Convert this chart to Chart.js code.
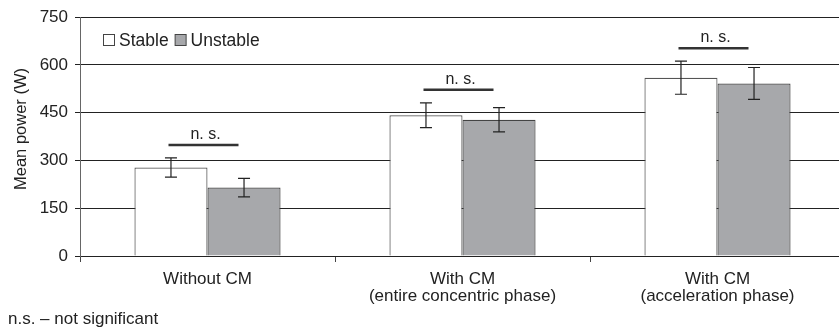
<!DOCTYPE html>
<html>
<head>
<meta charset="utf-8">
<script src="https://cdn.jsdelivr.net/npm/chart.js@4.4.1/dist/chart.umd.min.js"></script>
<style>
  html, body { margin: 0; padding: 0; background: #fff; overflow: hidden; }
  #wrap { width: 845px; height: 329px; position: relative; }
</style>
</head>
<body>
<div id="wrap"><canvas id="c"></canvas></div>
<script>
// values
const categories = [
  'Without CM',
  ['With CM', '(entire concentric phase)'],
  ['With CM', '(acceleration phase)']
]
const stable = [278, 442, 560]
const stableSD = [30, 39, 52]
const unstable = [215, 428, 542]
const unstableSD = [29, 38, 50]
const yTicks = [0, 150, 300, 450, 600, 750]
const nsLabel = 'n. s.'
const footnote = 'n.s. – not significant'
const yTitle = 'Mean power (W)'

const FONT = '"Liberation Sans", Arial, sans-serif'
const sds = [stableSD, unstableSD]

// error bars drawn on top of each bar
const errorBars = {
  id: 'errorBars',
  afterDatasetsDraw(chart) {
    const ctx = chart.ctx, y = chart.scales.y
    ctx.save()
    ctx.strokeStyle = '#222'
    ctx.lineWidth = 1.2
    chart.data.datasets.forEach((ds, di) => {
      chart.getDatasetMeta(di).data.forEach((bar, i) => {
        const v = ds.data[i], sd = sds[di][i]
        const top = y.getPixelForValue(v + sd), bot = y.getPixelForValue(v - sd)
        ctx.beginPath()
        ctx.moveTo(bar.x, top); ctx.lineTo(bar.x, bot)
        ctx.moveTo(bar.x - 6, top); ctx.lineTo(bar.x + 6, top)
        ctx.moveTo(bar.x - 6, bot); ctx.lineTo(bar.x + 6, bot)
        ctx.stroke()
      })
    })
    ctx.restore()
  }
}

// "n. s." brackets, legend in the plot, axis title, footnote
const extras = {
  id: 'extras',
  afterDraw(chart) {
    const ctx = chart.ctx, x = chart.scales.x, y = chart.scales.y
    ctx.save()
    ctx.font = '16px ' + FONT
    ctx.fillStyle = '#222'
    categories.forEach((c, i) => {
      const top = Math.min(
        y.getPixelForValue(stable[i] + stableSD[i]),
        y.getPixelForValue(unstable[i] + unstableSD[i]))
      const ly = top - 13
      const cx = x.getPixelForValue(i) - 4
      ctx.strokeStyle = '#333'
      ctx.lineWidth = 2.5
      ctx.beginPath()
      ctx.moveTo(cx - 35, ly); ctx.lineTo(cx + 35, ly)
      ctx.stroke()
      ctx.textAlign = 'center'
      ctx.textBaseline = 'alphabetic'
      ctx.fillText(nsLabel, cx + 2, ly - 6)
    })

    // legend
    let lx = 103
    const ly = 46
    ctx.font = '17.5px ' + FONT
    ctx.textAlign = 'left'
    chart.data.datasets.forEach(ds => {
      ctx.fillStyle = ds.backgroundColor
      ctx.fillRect(lx + 0.5, ly - 11.5, 11, 11)
      ctx.strokeStyle = '#444'
      ctx.lineWidth = 1
      ctx.strokeRect(lx + 0.5, ly - 11.5, 11, 11)
      ctx.fillStyle = '#222'
      ctx.fillText(ds.label, lx + 16, ly)
      lx += 16 + ctx.measureText(ds.label).width + 6
    })

    // y title
    ctx.save()
    ctx.translate(26, 129)
    ctx.rotate(-Math.PI / 2)
    ctx.textAlign = 'center'
    ctx.font = '16.5px ' + FONT
    ctx.fillText(yTitle, 0, 0)
    ctx.restore()

    ctx.font = '17px ' + FONT
    ctx.fillText(footnote, 8, 324)
    ctx.restore()
  }
}

new Chart(document.getElementById('c'), {
  type: 'bar',
  data: {
    labels: categories,
    datasets: [
      { label: 'Stable', data: stable, backgroundColor: '#ffffff', borderColor: '#555', borderWidth: 1.2 },
      { label: 'Unstable', data: unstable, backgroundColor: '#a7a8ab', borderColor: '#444', borderWidth: 1.2 }
    ]
  },
  options: {
    responsive: true,
    maintainAspectRatio: false,
    animation: false,
    layout: { padding: { top: 16, right: 0, left: 0, bottom: 0 } },
    datasets: { bar: { categoryPercentage: 0.573, barPercentage: 1 } },
    plugins: { legend: { display: false }, tooltip: { enabled: false } },
    scales: {
      x: {
        afterFit: s => { s.height = 73 },
        grid: { offset: true, drawOnChartArea: false, drawTicks: true, tickLength: 6, color: '#444' },
        border: { color: '#222', width: 1 },
        ticks: { color: '#222', font: { family: FONT, size: 17, lineHeight: 1.0 }, padding: 9, maxRotation: 0 }
      },
      y: {
        min: 0,
        max: 750,
        afterFit: s => { s.width = 80 },
        afterBuildTicks: s => { s.ticks = yTicks.map(v => ({ value: v })) },
        grid: { color: '#222', lineWidth: 1, tickLength: 5 },
        border: { color: '#666', width: 1 },
        ticks: { color: '#222', font: { family: FONT, size: 17 }, padding: 7 }
      }
    }
  },
  plugins: [errorBars, extras]
})
</script>
</body>
</html>
